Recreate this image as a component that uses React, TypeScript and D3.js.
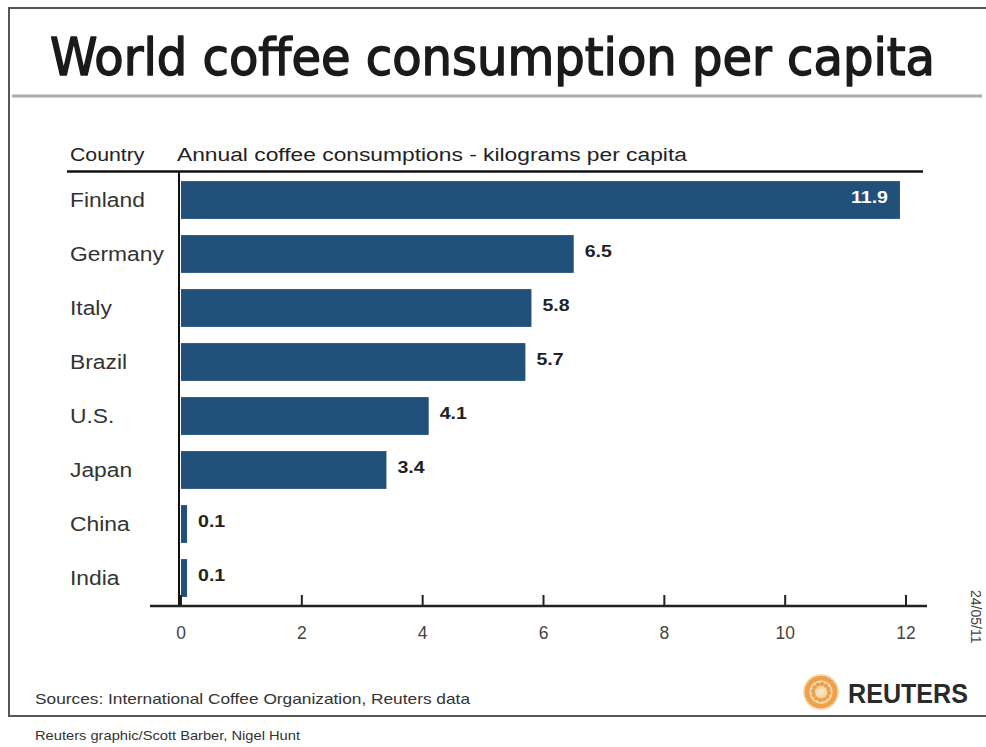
import React from "react";
import * as d3 from "d3";

const countries = ["Finland", "Germany", "Italy", "Brazil", "U.S.", "Japan", "China", "India"];
const consumption = [11.9, 6.5, 5.8, 5.7, 4.1, 3.4, 0.1, 0.1];
const tickValues = [0, 2, 4, 6, 8, 10, 12];

const W = 986;
const H = 747;

function SText(props: { x: number; y: number; sx?: number; anchor?: string; size: number; weight?: string | number; fill: string; family: string; children: React.ReactNode }) {
  const { x, y, sx = 1.17, anchor = "start", size, weight = "normal", fill, family, children } = props;
  return (
    <text transform={`translate(${x},${y}) scale(${sx},1)`} textAnchor={anchor} fontFamily={family} fontSize={size} fontWeight={weight} fill={fill}>
      {children}
    </text>
  );
}

export default function App() {
  const x = d3.scaleLinear().domain([0, 12]).range([181, 906]);
  const y = d3.scaleBand<string>().domain(countries).range([173, 605]).paddingInner(0.3).paddingOuter(0.15);
  const axisY = 606;
  const sans = "'Liberation Sans', Arial, sans-serif";
  const barColor = "#21507b";

  const rays = d3.range(24).map((i) => (i / 24) * Math.PI * 2);
  const logoCx = 821;
  const logoCy = 692;

  return (
    <svg width={W} height={H} style={{ position: "absolute", left: 0, top: 0, background: "#fff" }}>
      <rect x={0} y={0} width={W} height={H} fill="#fff" />
      {/* frame */}
      <path d={`M${W} 8 H9 V716 H${W}`} fill="none" stroke="#555" strokeWidth={2} />
      {/* title */}
      <text x={50} y={75} fontFamily="'DejaVu Sans Condensed', 'DejaVu Sans', sans-serif" fontSize={52} fill="#1a1a1a" stroke="#1a1a1a" strokeWidth={1.4} strokeLinejoin="round" textLength={885} lengthAdjust="spacingAndGlyphs">
        World coffee consumption per capita
      </text>
      <line x1={12} x2={982} y1={96} y2={96} stroke="#aaa" strokeWidth={3} />

      {/* header */}
      <SText x={70} y={161} size={19} fill="#222" family={sans} sx={1.12}>Country</SText>
      <SText x={177} y={161} size={19} fill="#222" family={sans} sx={1.2}>Annual coffee consumptions - kilograms per capita</SText>
      <line x1={67} x2={923} y1={171.5} y2={171.5} stroke="#111" strokeWidth={2.5} />

      {/* bars */}
      {countries.map((c, i) => {
        const v = consumption[i];
        const y0 = y(c)!;
        const bw = y.bandwidth();
        const inside = i === 0;
        return (
          <g key={c}>
            <rect x={x(0)} y={y0} width={Math.max(x(v) - x(0), 3)} height={bw} fill={barColor} />
            <SText x={70} y={y0 + bw / 2 + 7} size={19.5} fill="#333" family={sans} sx={1.17}>{c}</SText>
            <SText
              x={inside ? x(v) - 12 : x(v) + 11}
              y={y0 + bw / 2 + 3}
              anchor={inside ? "end" : "start"}
              family={sans}
              size={17}
              weight="bold"
              fill={inside ? "#fff" : "#222"}
              sx={1.15}
            >
              {v.toFixed(1)}
            </SText>
          </g>
        );
      })}

      {/* y axis line */}
      <line x1={x(0) - 2} x2={x(0) - 2} y1={171} y2={axisY} stroke="#111" strokeWidth={2} />
      {/* x axis */}
      <line x1={150} x2={927} y1={axisY} y2={axisY} stroke="#222" strokeWidth={2.5} />
      {tickValues.map((t) => (
        <g key={t}>
          <line x1={x(t)} x2={x(t)} y1={axisY - 11} y2={axisY} stroke="#222" strokeWidth={2} />
          <SText x={x(t)} y={axisY + 33} anchor="middle" family={sans} size={19} fill="#444" sx={0.92}>{t}</SText>
        </g>
      ))}

      {/* date */}
      <text transform={`translate(971,590) rotate(90)`} fontFamily={sans} fontSize={14} fill="#444">24/05/11</text>

      {/* sources */}
      <text x={35} y={704} fontFamily={sans} fontSize={15} fill="#333" textLength={435} lengthAdjust="spacingAndGlyphs">Sources: International Coffee Organization, Reuters data</text>
      <text x={35} y={740} fontFamily={sans} fontSize={13.5} fill="#333" textLength={265} lengthAdjust="spacingAndGlyphs">Reuters graphic/Scott Barber, Nigel Hunt</text>

      {/* Reuters logo */}
      <g>
        <circle cx={logoCx} cy={logoCy} r={18} fill="#f3b766" opacity={0.5} />
        {rays.map((a, i) => (
          <circle key={i} cx={logoCx + Math.cos(a) * 14} cy={logoCy + Math.sin(a) * 14} r={2.6} fill="#ec9a3c" opacity={0.85} />
        ))}
        {rays.filter((_, i) => i % 2 === 0).map((a, i) => (
          <circle key={"b" + i} cx={logoCx + Math.cos(a + 0.13) * 8} cy={logoCy + Math.sin(a + 0.13) * 8} r={2.2} fill="#e9973a" opacity={0.85} />
        ))}
        <circle cx={logoCx} cy={logoCy} r={3} fill="#fbe3b7" />
        <text x={848} y={703} fontFamily={sans} fontSize={27} fontWeight="bold" fill="#2a2a2a" textLength={120} lengthAdjust="spacingAndGlyphs">REUTERS</text>
      </g>
    </svg>
  );
}
